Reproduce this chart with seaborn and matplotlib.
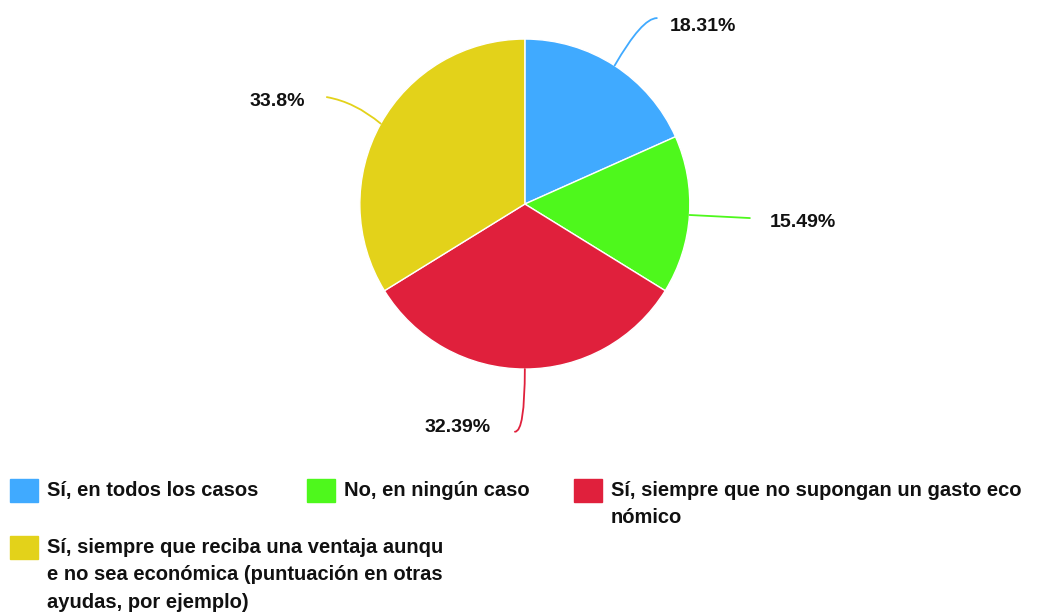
import matplotlib
matplotlib.use('Agg')
import matplotlib.pyplot as plt
import seaborn as sns
import numpy as np
from matplotlib.patches import Rectangle

sns.set_theme(style='white')
plt.rcParams['font.family'] = ['Liberation Sans', 'DejaVu Sans']

# Data
categories = [
    'Sí, en todos los casos',
    'No, en ningún caso',
    'Sí, siempre que no supongan un gasto eco\nnómico',
    'Sí, siempre que reciba una ventaja aunqu\ne no sea económica (puntuación en otras\nayudas, por ejemplo)',
]
values = [18.31, 15.49, 32.39, 33.8]
value_labels = ['18.31%', '15.49%', '32.39%', '33.8%']
colors = ['#40AAFF', '#4EF81C', '#E0203C', '#E3D21A']

fig = plt.figure(figsize=(10.43, 6.13), dpi=100)
ax = fig.add_axes([0.345, 0.398, 0.3164, 0.5383])

wedges, _ = ax.pie(values, colors=colors, startangle=90, counterclock=False,
                   wedgeprops=dict(edgecolor='white', linewidth=1))
ax.set_xlim(-1, 1)
ax.set_ylim(-1, 1)
ax.set_aspect('equal')

# leader line end points and label positions (data units of the pie axes)
line_ends = [(0.80, 1.127), (1.364, -0.085), (-0.06, -1.38), (-1.2, 0.648)]
label_pos = [(0.88, 1.075), (1.485, -0.11), (-0.41, -1.355), (-1.33, 0.62)]
label_ha = ['left', 'left', 'center', 'right']
conn = ['angle3,angleA=0,angleB=60', 'arc3,rad=0', 'angle3,angleA=0,angleB=90',
        'angle3,angleA=-10,angleB=-40']

for w, end, pos, ha, cs, txt, c in zip(wedges, line_ends, label_pos, label_ha,
                                        conn, value_labels, colors):
    ang = np.deg2rad((w.theta1 + w.theta2) / 2)
    start = (np.cos(ang), np.sin(ang))
    ax.annotate('', xy=start, xytext=end, annotation_clip=False,
                arrowprops=dict(arrowstyle='-', color=c, lw=1.3,
                                connectionstyle=cs, shrinkA=0, shrinkB=0))
    ax.text(pos[0], pos[1], txt, ha=ha, va='center', fontsize=14,
            fontweight='bold', color='#111111', clip_on=False)

# Legend
W, H = 1043, 613
legend_xy = [(10, 479), (307, 479), (574, 479), (10, 536)]
for (px, py), c, lab in zip(legend_xy, colors, categories):
    fig.patches.append(Rectangle((px / W, 1 - (py + 23) / H), 28 / W, 23 / H,
                                 transform=fig.transFigure, color=c))
    fig.text((px + 37) / W, 1 - (py + 2) / H, lab, ha='left', va='top',
             fontsize=14.5, fontweight='bold', color='#111111', linespacing=1.55)

fig.savefig('out.png', dpi=100)
